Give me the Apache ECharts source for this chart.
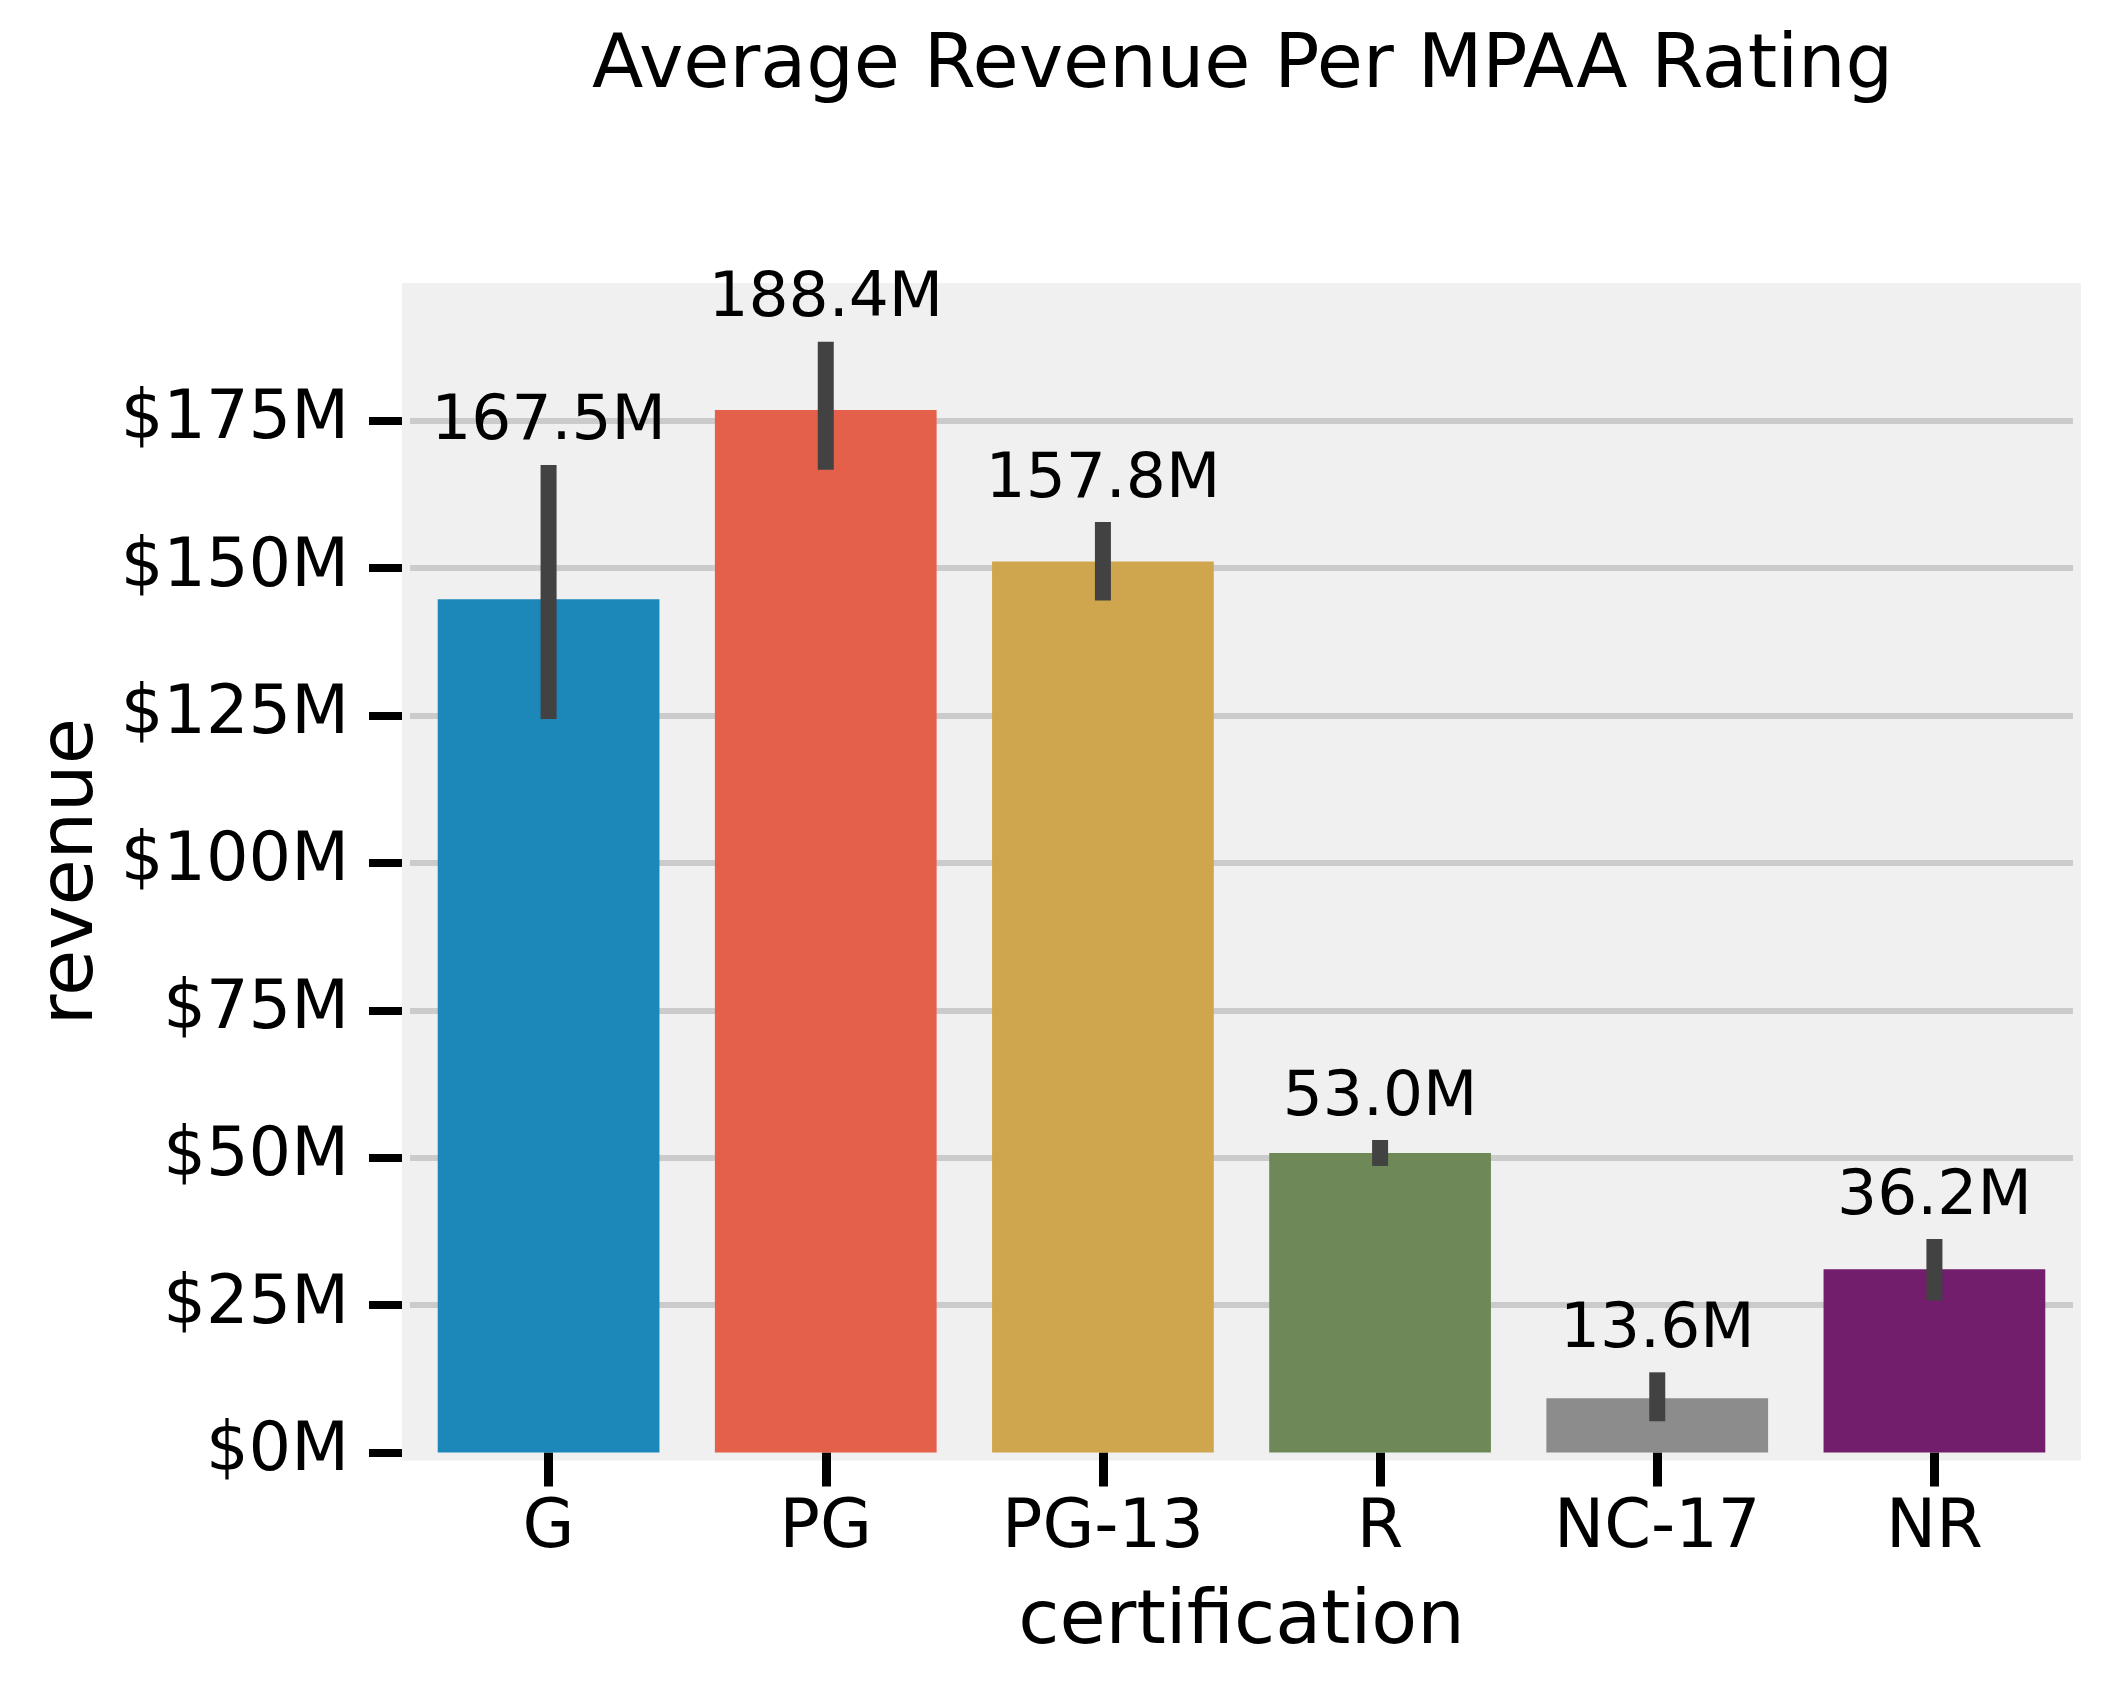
<!DOCTYPE html>
<html><head><meta charset="utf-8">
<script src="https://cdn.jsdelivr.net/npm/echarts@6/dist/echarts.min.js"></script>
<style>html,body{margin:0;padding:0;background:#fff}#c{width:2106px;height:1692px}</style>
</head><body><div id="c"></div>
<script>
const categories = ['G', 'PG', 'PG-13', 'R', 'NC-17', 'NR'];
const meanRevenue = [144.7, 176.8, 151.1, 50.8, 9.2, 31.1];   // $M
const ciLow = [124.4, 166.7, 144.5, 48.6, 5.3, 25.8];          // $M
const ciHigh = [167.5, 188.4, 157.8, 53.0, 13.6, 36.2];        // $M
const barColors = ['#1c87b9', '#e4604b', '#cfa64d', '#6e8957', '#8c8c8c', '#731e6c'];
const yTicks = [0, 25, 50, 75, 100, 125, 150, 175];

const FONT = '"DejaVu Sans", sans-serif';
const chart = echarts.init(document.getElementById('c'), null, {renderer: 'canvas'});
chart.setOption({
  backgroundColor: '#ffffff',
  animation: false,
  title: {
    text: 'Average Revenue Per MPAA Rating',
    left: 587, top: 25,
    textStyle: {fontFamily: FONT, fontSize: 75, fontWeight: 'normal', color: '#000'}
  },
  grid: {
    left: 410, right: 33, top: 291, bottom: 239.5,
    show: true, backgroundColor: '#f0f0f0', borderColor: '#f0f0f0', borderWidth: 16
  },
  xAxis: {
    type: 'category',
    data: categories,
    offset: 4,
    name: 'certification',
    nameLocation: 'middle',
    nameGap: 130,
    nameTextStyle: {fontFamily: FONT, fontSize: 75, color: '#000'},
    axisLine: {show: false},
    axisTick: {show: true, alignWithLabel: true, length: 34, lineStyle: {color: '#000', width: 9}},
    axisLabel: {fontFamily: FONT, fontSize: 67, color: '#000', margin: 40},
    splitLine: {show: false}
  },
  yAxis: {
    type: 'value',
    min: 0, max: 197, interval: 25,
    offset: 8,
    name: 'revenue',
    nameLocation: 'middle',
    nameRotate: 90,
    nameGap: 287,
    nameTextStyle: {fontFamily: FONT, fontSize: 75, color: '#000'},
    axisLine: {show: false},
    axisTick: {show: true, length: 33, customValues: yTicks, lineStyle: {color: '#000', width: 8}},
    axisLabel: {
      fontFamily: FONT, fontSize: 67, color: '#000', margin: 53,
      customValues: yTicks,
      formatter: v => '$' + v + 'M'
    },
    splitLine: {show: true, showMinLine: false, lineStyle: {color: '#cbcbcb', width: 6}}
  },
  series: [
    {
      type: 'bar',
      barWidth: '80%',
      data: meanRevenue.map((v, i) => ({value: v, itemStyle: {color: barColors[i]}})),
      z: 2
    },
    {
      type: 'custom',
      z: 3,
      data: categories.map((c, i) => [i, ciLow[i], ciHigh[i]]),
      renderItem: function (params, api) {
        const x = api.value(0), lo = api.value(1), hi = api.value(2);
        const pLo = api.coord([x, lo]);
        const pHi = api.coord([x, hi]);
        return {
          type: 'group',
          children: [
            {type: 'line', shape: {x1: pLo[0], y1: pLo[1], x2: pHi[0], y2: pHi[1]},
             style: {stroke: '#424242', lineWidth: 16, lineCap: 'butt'}},
            {type: 'text', style: {text: hi.toFixed(1) + 'M', x: pHi[0], y: pHi[1] - 41.8,
             align: 'center', verticalAlign: 'middle', font: '63px ' + FONT, fill: '#000'}}
          ]
        };
      }
    }
  ]
});
</script></body></html>
